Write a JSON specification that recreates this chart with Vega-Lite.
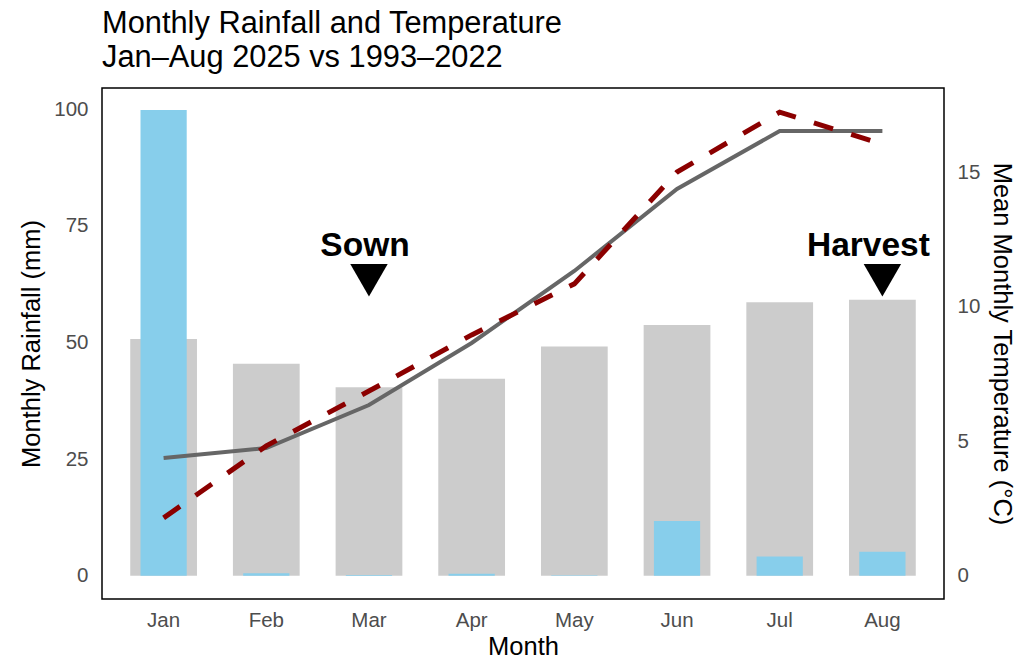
{
  "$schema": "https://vega.github.io/schema/vega-lite/v6.json",
  "width": 842,
  "height": 511,
  "autosize": {"type": "none"},
  "padding": {"left": 102, "top": 88, "right": 80, "bottom": 64},
  "background": "white",
  "title": {
    "text": ["Monthly Rainfall and Temperature", "Jan–Aug 2025 vs 1993–2022"],
    "anchor": "start",
    "frame": "group",
    "font": "Liberation Sans",
    "fontSize": 30.8,
    "fontWeight": "normal",
    "color": "black",
    "baseline": "alphabetic",
    "lineHeight": 34,
    "offset": 21,
    "dy": 31
  },
  "config": {
    "view": {"stroke": "black", "strokeWidth": 1.5},
    "axis": {
      "grid": false,
      "ticks": false,
      "domain": false,
      "labelFont": "Liberation Sans",
      "labelFontSize": 20.5,
      "labelColor": "#4D4D4D",
      "titleFont": "Liberation Sans",
      "titleFontSize": 25.5,
      "titleFontWeight": "normal",
      "titleColor": "black"
    }
  },
  "datasets": {
    "monthly": [
      {"month": "Jan", "avg_rain": 50.7, "rain_2025": 99.8, "avg_temp": 4.38, "temp_2025": 2.15},
      {"month": "Feb", "avg_rain": 45.4, "rain_2025": 0.5, "avg_temp": 4.75, "temp_2025": 4.83},
      {"month": "Mar", "avg_rain": 40.4, "rain_2025": 0.15, "avg_temp": 6.35, "temp_2025": 6.87},
      {"month": "Apr", "avg_rain": 42.2, "rain_2025": 0.4, "avg_temp": 8.66, "temp_2025": 8.96},
      {"month": "May", "avg_rain": 49.1, "rain_2025": 0.1, "avg_temp": 11.34, "temp_2025": 10.86},
      {"month": "Jun", "avg_rain": 53.7, "rain_2025": 11.7, "avg_temp": 14.39, "temp_2025": 15.02},
      {"month": "Jul", "avg_rain": 58.6, "rain_2025": 4.1, "avg_temp": 16.55, "temp_2025": 17.25},
      {"month": "Aug", "avg_rain": 59.1, "rain_2025": 5.1, "avg_temp": 16.55, "temp_2025": 16.06}
    ],
    "events": [
      {"month": "Mar", "label": "Sown", "marker_y": 63.3, "label_y": 68.5},
      {"month": "Aug", "label": "Harvest", "marker_y": 63.3, "label_y": 68.5}
    ]
  },
  "encoding": {
    "x": {
      "field": "month",
      "type": "nominal",
      "sort": ["Jan", "Feb", "Mar", "Apr", "May", "Jun", "Jul", "Aug"],
      "scale": {"paddingInner": 0, "paddingOuter": 0.1},
      "axis": {"labelAngle": 0, "labelPadding": 11, "titlePadding": 4},
      "title": "Month"
    }
  },
  "layer": [
    {
      "layer": [
        {
          "data": {"name": "monthly"},
          "mark": {"type": "bar", "color": "#CCCCCC", "width": {"band": 0.65}},
          "encoding": {
            "y": {
              "field": "avg_rain",
              "type": "quantitative",
              "title": "Monthly Rainfall (mm)",
              "scale": {"domain": [-5, 104.5], "nice": false, "zero": false},
              "axis": {"values": [0, 25, 50, 75, 100], "labelPadding": 14, "titlePadding": 9}
            }
          }
        },
        {
          "data": {"name": "monthly"},
          "mark": {"type": "bar", "color": "#87CEEB", "width": {"band": 0.45}},
          "encoding": {
            "y": {"field": "rain_2025", "type": "quantitative", "title": "Monthly Rainfall (mm)"}
          }
        },
        {
          "data": {"name": "events"},
          "mark": {"type": "point", "shape": "triangle-down", "filled": true, "color": "black", "size": 1400, "opacity": 1},
          "encoding": {
            "y": {"field": "marker_y", "type": "quantitative", "title": "Monthly Rainfall (mm)"}
          }
        },
        {
          "data": {"name": "events"},
          "transform": [{"filter": "datum.label === 'Sown'"}],
          "mark": {"type": "text", "font": "Liberation Sans", "fontSize": 33.5, "fontWeight": "bold", "color": "black", "align": "center", "baseline": "alphabetic", "dx": -4},
          "encoding": {
            "y": {"field": "label_y", "type": "quantitative", "title": "Monthly Rainfall (mm)"},
            "text": {"field": "label"}
          }
        },
        {
          "data": {"name": "events"},
          "transform": [{"filter": "datum.label === 'Harvest'"}],
          "mark": {"type": "text", "font": "Liberation Sans", "fontSize": 33.5, "fontWeight": "bold", "color": "black", "align": "center", "baseline": "alphabetic", "dx": -14},
          "encoding": {
            "y": {"field": "label_y", "type": "quantitative", "title": "Monthly Rainfall (mm)"},
            "text": {"field": "label"}
          }
        }
      ]
    },
    {
      "layer": [
        {
          "data": {"name": "monthly"},
          "mark": {"type": "line", "color": "#666666", "strokeWidth": 4},
          "encoding": {
            "y": {
              "field": "avg_temp",
              "type": "quantitative",
              "title": "Mean Monthly Temperature (°C)",
              "scale": {"domain": [-0.87, 18.15], "nice": false, "zero": false},
              "axis": {"orient": "right", "values": [0, 5, 10, 15], "labelPadding": 13, "titlePadding": 9, "titleAngle": 90}
            }
          }
        },
        {
          "data": {"name": "monthly"},
          "mark": {"type": "line", "color": "#8B0000", "strokeWidth": 5, "strokeDash": [20, 19], "strokeCap": "butt"},
          "encoding": {
            "y": {"field": "temp_2025", "type": "quantitative", "title": "Mean Monthly Temperature (°C)"}
          }
        }
      ]
    }
  ],
  "resolve": {"scale": {"y": "independent"}}
}
